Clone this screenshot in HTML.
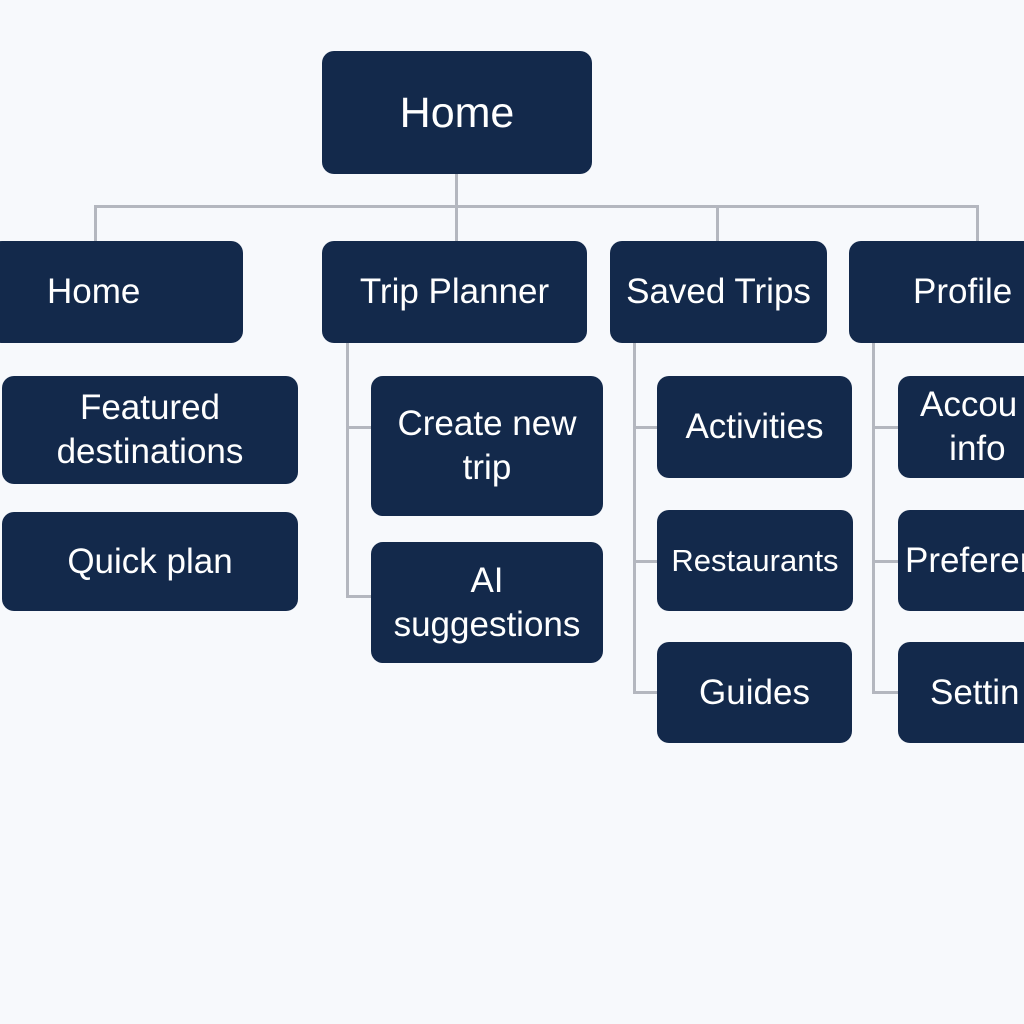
<!DOCTYPE html>
<html><head><meta charset="utf-8"><style>
html,body{margin:0;padding:0}
body{width:1024px;height:1024px;background:#f7f9fc;position:relative;overflow:hidden;font-family:"Liberation Sans",sans-serif}
.b{position:absolute;background:#13294b;border-radius:12px;color:#fff;display:flex;align-items:center;justify-content:center;text-align:center;font-size:35px;line-height:44px;box-sizing:border-box;white-space:nowrap}
.l{position:absolute;background:#b4b7bf}
</style></head><body>
<div class="l" style="left:455px;top:173px;width:3px;height:35px"></div>
<div class="l" style="left:94px;top:205px;width:885px;height:3px"></div>
<div class="l" style="left:94px;top:205px;width:3px;height:37px"></div>
<div class="l" style="left:455px;top:205px;width:3px;height:37px"></div>
<div class="l" style="left:716px;top:205px;width:3px;height:37px"></div>
<div class="l" style="left:976px;top:205px;width:3px;height:37px"></div>

<div class="l" style="left:346px;top:342px;width:3px;height:256px"></div>
<div class="l" style="left:346px;top:426px;width:26px;height:3px"></div>
<div class="l" style="left:346px;top:595px;width:26px;height:3px"></div>

<div class="l" style="left:633px;top:342px;width:3px;height:352px"></div>
<div class="l" style="left:633px;top:426px;width:25px;height:3px"></div>
<div class="l" style="left:633px;top:560px;width:25px;height:3px"></div>
<div class="l" style="left:633px;top:691px;width:25px;height:3px"></div>

<div class="l" style="left:872px;top:342px;width:3px;height:352px"></div>
<div class="l" style="left:872px;top:426px;width:27px;height:3px"></div>
<div class="l" style="left:872px;top:560px;width:27px;height:3px"></div>
<div class="l" style="left:872px;top:691px;width:27px;height:3px"></div>

<div class="b" style="left:322px;top:51px;width:270px;height:123px;font-size:43px">Home</div>

<div class="b" style="left:-10px;top:241px;width:253px;height:102px;justify-content:flex-start;padding-left:57px">Home</div>
<div class="b" style="left:322px;top:241px;width:265px;height:102px">Trip Planner</div>
<div class="b" style="left:610px;top:241px;width:217px;height:102px">Saved Trips</div>
<div class="b" style="left:849px;top:241px;width:200px;height:102px;justify-content:flex-start;padding-left:64px">Profile</div>

<div class="b" style="left:2px;top:376px;width:296px;height:108px">Featured<br>destinations</div>
<div class="b" style="left:2px;top:512px;width:296px;height:99px">Quick plan</div>

<div class="b" style="left:371px;top:376px;width:232px;height:140px">Create new<br>trip</div>
<div class="b" style="left:371px;top:542px;width:232px;height:121px">AI<br>suggestions</div>

<div class="b" style="left:657px;top:376px;width:195px;height:102px">Activities</div>
<div class="b" style="left:657px;top:510px;width:196px;height:101px;font-size:31px">Restaurants</div>
<div class="b" style="left:657px;top:642px;width:195px;height:101px">Guides</div>

<div class="b" style="left:898px;top:376px;width:150px;height:102px;justify-content:flex-start;padding-left:22px;text-align:left">Accou<br>&nbsp;&nbsp;&nbsp;info</div>
<div class="b" style="left:898px;top:510px;width:150px;height:101px;justify-content:flex-start;padding-left:7px">Preferen</div>
<div class="b" style="left:898px;top:642px;width:150px;height:101px;justify-content:flex-start;padding-left:32px">Settin</div>
</body></html>
